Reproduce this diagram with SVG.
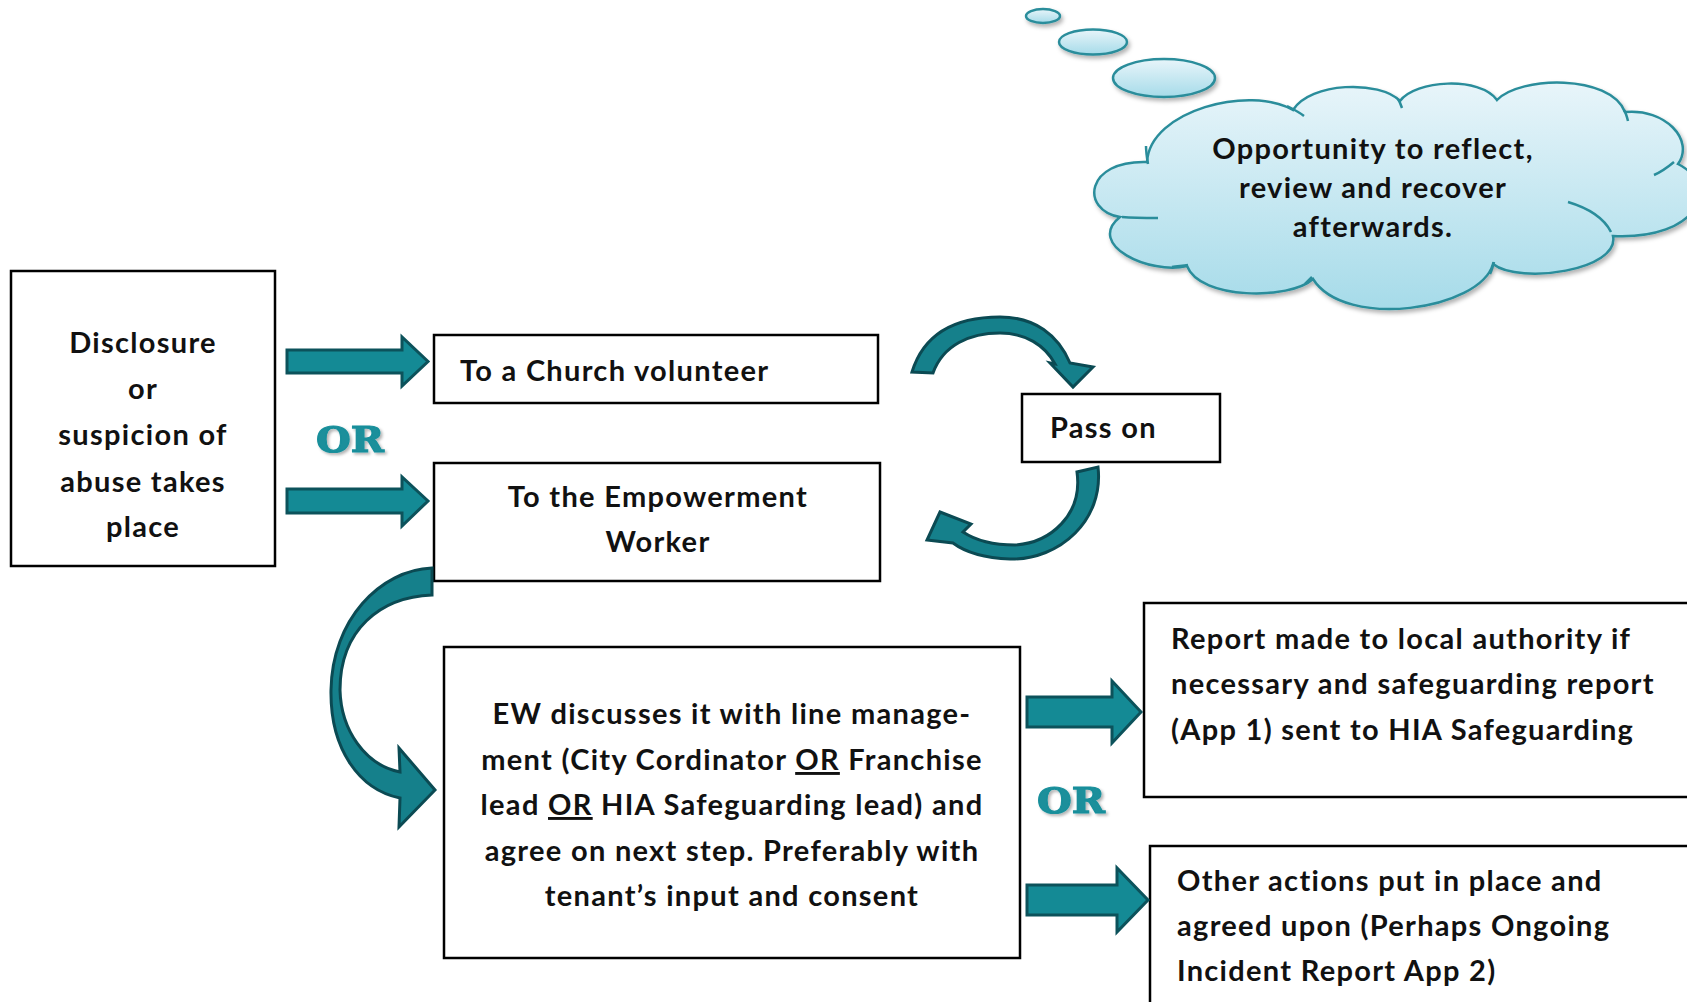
<svg xmlns="http://www.w3.org/2000/svg" width="1687" height="1002" viewBox="0 0 1687 1002">
<defs>
<linearGradient id="cloudGrad" x1="0" y1="0" x2="0" y2="1">
<stop offset="0" stop-color="#e8f5fa"/>
<stop offset="1" stop-color="#a6dbe9"/>
</linearGradient>
<filter id="shadow" x="-10%" y="-10%" width="130%" height="140%">
<feDropShadow dx="2" dy="3" stdDeviation="2" flood-color="#000" flood-opacity="0.3"/>
</filter>
<filter id="orShadow" x="-20%" y="-20%" width="150%" height="160%">
<feDropShadow dx="2" dy="2" stdDeviation="1.5" flood-color="#000" flood-opacity="0.3"/>
</filter>
</defs>
<style>
.box{fill:#fff;stroke:#000;stroke-width:2.5}
.t{font-family:Lato,"Liberation Sans",sans-serif;font-weight:bold;font-size:29px;letter-spacing:1.3px;fill:#111}
.c{text-anchor:middle}
.arrow{fill:#148a95;stroke:#0c525b;stroke-width:3;stroke-linejoin:miter}
.curve{fill:#15808b;stroke:#0b4a53;stroke-width:3;stroke-linejoin:miter}
.or{font-family:"DejaVu Serif",serif;font-weight:bold;font-size:36px;fill:#1a8f9b;stroke:#1a8f9b;stroke-width:1.2}
.cloud{fill:url(#cloudGrad);stroke:#2a8d9b;stroke-width:2.5}
.crease{fill:none;stroke:#2a8d9b;stroke-width:2.5}
</style>
<rect width="1687" height="1002" fill="#fff"/>

<g id="thought-cloud">
<g filter="url(#shadow)">
<ellipse class="cloud" cx="1043" cy="16" rx="17" ry="7"/>
<ellipse class="cloud" cx="1093" cy="42" rx="34" ry="12.5"/>
<ellipse class="cloud" cx="1164" cy="78" rx="51" ry="19"/>
<path class="cloud" d="M1147,162 C1150,110 1250,85 1293,110 C1310,82 1380,80 1400,101 C1415,80 1480,76 1497,100 C1520,76 1610,74 1625,112 C1665,108 1695,140 1678,164 C1720,185 1700,240 1613,236 C1620,270 1520,285 1493,264 C1480,310 1345,330 1313,279 C1290,300 1200,300 1187,266 C1150,275 1085,245 1120,217 C1080,210 1085,160 1147,162 Z"/>
</g>
<path class="crease" d="M1146,146 C1146,152 1147,158 1148,164"/>
<path class="crease" d="M1287,106 C1293,109 1299,112 1304,116"/>
<path class="crease" d="M1398,99 C1400,102 1401,105 1402,108"/>
<path class="crease" d="M1624,110 C1626,113 1627,117 1628,121"/>
<path class="crease" d="M1674,162 C1668,167 1661,172 1654,175"/>
<path class="crease" d="M1568,202 C1588,208 1604,218 1611,232"/>
<path class="crease" d="M1494,262 C1493,266 1492,270 1490,274"/>
<path class="crease" d="M1312,277 C1309,280 1307,282 1305,284"/>
<path class="crease" d="M1172,267 C1177,266 1182,266 1188,265"/>
<path class="crease" d="M1122,217 C1134,218 1146,218 1158,218"/>
<text class="t c" x="1373" y="159">Opportunity to reflect,</text>
<text class="t c" x="1373" y="198">review and recover</text>
<text class="t c" x="1373" y="237">afterwards.</text>
</g>

<g id="node-disclosure">
<rect class="box" x="11" y="271" width="264" height="295"/>
<text class="t c" x="143" y="353">Disclosure</text>
<text class="t c" x="143" y="399">or</text>
<text class="t c" x="143" y="445">suspicion of</text>
<text class="t c" x="143" y="492">abuse takes</text>
<text class="t c" x="143" y="537">place</text>
</g>

<g id="node-church">
<rect class="box" x="434" y="335" width="444" height="68"/>
<text class="t" x="460" y="381">To a Church volunteer</text>
</g>

<g id="node-empowerment">
<rect class="box" x="434" y="463" width="446" height="118"/>
<text class="t c" x="658" y="507">To the Empowerment</text>
<text class="t c" x="658" y="552">Worker</text>
</g>

<g id="node-passon">
<rect class="box" x="1022" y="394" width="198" height="68"/>
<text class="t" x="1050" y="438">Pass on</text>
</g>

<g id="node-ew">
<rect class="box" x="444" y="647" width="576" height="311"/>
<text class="t c" x="732" y="724">EW discusses it with line manage-</text>
<text class="t c" x="732" y="770">ment (City Cordinator <tspan text-decoration="underline">OR</tspan> Franchise</text>
<text class="t c" x="732" y="815">lead <tspan text-decoration="underline">OR</tspan> HIA Safeguarding lead) and</text>
<text class="t c" x="732" y="861">agree on next step. Preferably with</text>
<text class="t c" x="732" y="906">tenant’s input and consent</text>
</g>

<g id="node-report">
<rect class="box" x="1144" y="603" width="560" height="194"/>
<text class="t" x="1171" y="649">Report made to local authority if</text>
<text class="t" x="1171" y="694">necessary and safeguarding report</text>
<text class="t" x="1171" y="740">(App 1) sent to HIA Safeguarding</text>
</g>

<g id="node-other">
<rect class="box" x="1150" y="846" width="560" height="180"/>
<text class="t" x="1177" y="891">Other actions put in place and</text>
<text class="t" x="1177" y="936">agreed upon (Perhaps Ongoing</text>
<text class="t" x="1177" y="981">Incident Report App 2)</text>
</g>

<g id="or-labels" filter="url(#orShadow)">
<text class="or" x="316" y="452" textLength="68" lengthAdjust="spacingAndGlyphs">OR</text>
<text class="or" x="1037" y="813" textLength="68" lengthAdjust="spacingAndGlyphs">OR</text>
</g>

<g id="connectors">
<path class="arrow" d="M287,350 L402,350 L402,337 L428,361.5 L402,386 L402,373 L287,373 Z"/>
<path class="arrow" d="M287,489 L402,489 L402,477 L428,501 L402,526 L402,513 L287,513 Z"/>
<path class="arrow" d="M1027,697 L1112,697 L1112,681 L1141,712 L1112,743 L1112,727 L1027,727 Z"/>
<path class="arrow" d="M1027,885 L1117,885 L1117,868 L1148,900 L1117,932 L1117,915 L1027,915 Z"/>
<path class="curve" d="M912,372 C925,330 960,317 1000,317 C1035,317 1058,335 1070,363 L1093,367 L1073,387 L1050,363 L1055,364 C1045,345 1025,333 1000,333 C970,333 943,345 933,373 Z"/>
<path class="curve" d="M1098,467 C1104,520 1060,560 1010,559 C985,558 965,552 953,543 L927,540 L940,512 L971,524 L963,532 C975,540 992,545 1015,545 C1050,543 1083,515 1077,472 Z"/>
<path class="curve" d="M432,568 C380,570 332,620 331,690 C330,750 360,790 400,798 L399,827 L435,790 L399,748 L400,772 C365,765 341,730 340,690 C340,630 380,597 432,595 Z"/>
</g>
</svg>
